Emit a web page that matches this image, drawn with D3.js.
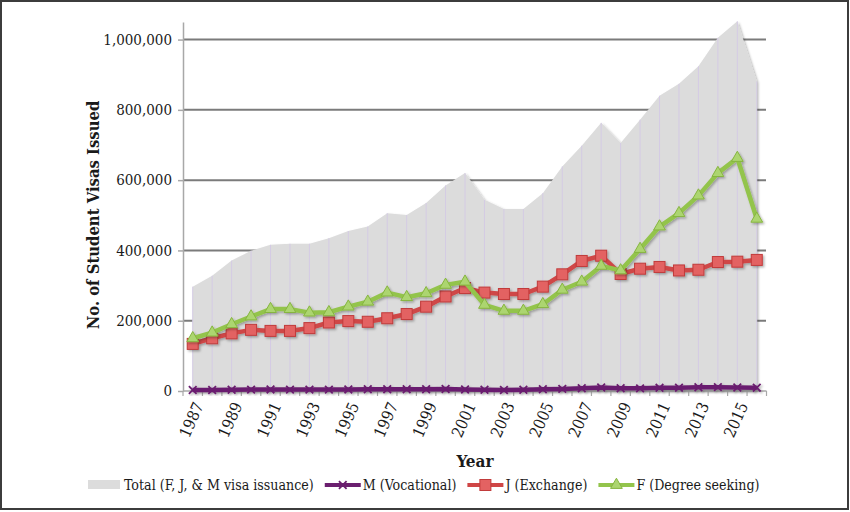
<!DOCTYPE html>
<html>
<head>
<meta charset="utf-8">
<script src="https://cdn.jsdelivr.net/npm/d3@7"></script>
<style>
  body { margin: 0; background: #fff; }
  svg { display: block; }
  text { font-family: "DejaVu Serif Condensed", "DejaVu Serif", serif; fill: #1a1a1a; }
</style>
</head>
<body>
<svg id="chart" width="850" height="512"></svg>
<script>
// categories and series
var years = [1987, 1988, 1989, 1990, 1991, 1992, 1993, 1994, 1995, 1996,
             1997, 1998, 1999, 2000, 2001, 2002, 2003, 2004, 2005, 2006,
             2007, 2008, 2009, 2010, 2011, 2012, 2013, 2014, 2015, 2016]

var totalVisas = [297000, 328000, 371000, 399000, 416000, 419000, 419000, 435000, 455000, 468000,
                  506000, 501000, 535000, 585000, 620000, 544000, 518000, 518000, 563000, 639000,
                  698000, 763000, 706000, 772000, 840000, 874000, 924000, 1005000, 1052000, 881000]

var mVisas = [3000, 3000, 3500, 4000, 4500, 4000, 4000, 4000, 4500, 5000,
              5000, 5000, 5000, 5500, 4500, 3500, 3000, 3500, 5000, 6000,
              8000, 10000, 8000, 7500, 9000, 9500, 10500, 11000, 10000, 9500]

var jVisas = [134000, 150000, 164000, 174000, 171000, 171000, 179000, 195000, 199000, 197000,
              207000, 219000, 240000, 269000, 293000, 280000, 276000, 276000, 297000, 332000,
              370000, 385000, 333000, 348000, 353000, 343000, 345000, 367000, 368000, 373000]

var fVisas = [150000, 166000, 190000, 212000, 233000, 233000, 223000, 224000, 240000, 254000,
              280000, 267000, 278000, 302000, 311000, 245000, 228000, 228000, 247000, 288000,
              311000, 356000, 343000, 404000, 468000, 506000, 556000, 620000, 663000, 490000]

var yTicks = [0, 200000, 400000, 600000, 800000, 1000000]
var yearLabels = [1987, 1989, 1991, 1993, 1995, 1997, 1999, 2001, 2003, 2005, 2007, 2009, 2011, 2013, 2015]

var legendLabels = ["Total (F, J, & M visa issuance)", "M (Vocational)", "J (Exchange)", "F (Degree seeking)"]

var svg = d3.select("#chart")

// outer frame
svg.append("rect")
    .attr("x", 1).attr("y", 1).attr("width", 847).attr("height", 508)
    .attr("fill", "#fff").attr("stroke", "#3c3c3c").attr("stroke-width", 2)

var defs = svg.append("defs")
var sh = defs.append("filter").attr("id", "shadow")
    .attr("x", "-5%").attr("y", "-5%").attr("width", "110%").attr("height", "120%")
sh.append("feDropShadow").attr("dx", 1.5).attr("dy", 1.5)
    .attr("stdDeviation", 1.2).attr("flood-color", "#000").attr("flood-opacity", 0.3)

var x = d3.scaleBand().domain(years).range([183, 766.5])
var xc = function(d) { return x(d) + x.bandwidth() / 2 }
var y = d3.scaleLinear().domain([0, 1050000]).range([391, 22])

// gridlines
svg.append("g").selectAll("line")
    .data(yTicks.slice(1)).enter()
    .append("line")
    .attr("x1", 184).attr("x2", 766)
    .attr("y1", function(d) { return y(d) }).attr("y2", function(d) { return y(d) })
    .attr("stroke", "#7b7b7b").attr("stroke-width", 2)

// total area with drop lines
var area = d3.area()
    .x(function(d, i) { return xc(years[i]) })
    .y0(y(0))
    .y1(function(d) { return y(d) })

svg.append("path")
    .datum(totalVisas)
    .attr("d", area)
    .attr("fill", "#dcdcdc")
    .attr("filter", "url(#shadow)")

svg.append("g").selectAll("line")
    .data(totalVisas).enter()
    .append("line")
    .attr("x1", function(d, i) { return xc(years[i]) })
    .attr("x2", function(d, i) { return xc(years[i]) })
    .attr("y1", function(d) { return y(d) })
    .attr("y2", y(0))
    .attr("stroke", "#d4cbe4").attr("stroke-width", 1)

// y axis
var yAxis = svg.append("g")
    .attr("transform", "translate(183,0)")
    .call(d3.axisLeft(y).tickValues(yTicks).tickSize(5).tickSizeOuter(0)
        .tickPadding(6).tickFormat(d3.format(",")))
yAxis.select(".domain").attr("stroke", "#a8a8a8").attr("stroke-width", 1.5)
yAxis.selectAll(".tick line").attr("stroke", "#a8a8a8").attr("stroke-width", 1.5)
yAxis.selectAll(".tick text").attr("font-size", 15)
    .style("font-family", "'DejaVu Serif Condensed', serif").attr("fill", "#1a1a1a")

// x axis: ticks sit between categories, labels on odd years
var xAxis = svg.append("g").attr("transform", "translate(0," + y(0) + ")")
xAxis.append("line").attr("x1", 183).attr("x2", 766.5)
    .attr("stroke", "#a8a8a8").attr("stroke-width", 1.5)
xAxis.selectAll(".sep")
    .data(years.concat(["end"])).enter()
    .append("line").attr("class", "sep")
    .attr("x1", function(d) { return d === "end" ? x.range()[1] : x(d) })
    .attr("x2", function(d) { return d === "end" ? x.range()[1] : x(d) })
    .attr("y1", 0).attr("y2", 5)
    .attr("stroke", "#a8a8a8").attr("stroke-width", 1.2)
xAxis.selectAll(".lab")
    .data(yearLabels).enter()
    .append("text").attr("class", "lab")
    .attr("text-anchor", "end")
    .attr("font-size", 16)
    .attr("transform", function(d) { return "translate(" + (xc(d) + 6) + ",12) rotate(-66)" })
    .attr("dy", "0.35em")
    .text(function(d) { return d })

// series lines
var line = d3.line()
    .x(function(d, i) { return xc(years[i]) })
    .y(function(d) { return y(d) })

var series = [
    { vals: mVisas, color: "#6b1f6f", mark: "x", mfill: "#6b1f6f", mstroke: "#6b1f6f" },
    { vals: jVisas, color: "#cf4646", mark: "square", mfill: "#e36262", mstroke: "#c13b3b" },
    { vals: fVisas, color: "#93c44c", mark: "triangle", mfill: "#acd56f", mstroke: "#86b53f" }
]

function drawMarker(g, s, cx, cy) {
    if (s.mark === "square") {
        g.append("rect").attr("x", cx - 5.5).attr("y", cy - 5.5).attr("width", 11).attr("height", 11)
            .attr("fill", s.mfill).attr("stroke", s.mstroke).attr("stroke-width", 1)
    } else if (s.mark === "triangle") {
        g.append("path").attr("d", d3.symbol(d3.symbolTriangle, 60)())
            .attr("transform", "translate(" + cx + "," + cy + ")")
            .attr("fill", s.mfill).attr("stroke", s.mstroke).attr("stroke-width", 1)
    } else {
        g.append("path").attr("d", d3.symbol(d3.symbolX, 40)())
            .attr("transform", "translate(" + cx + "," + cy + ")")
            .attr("fill", "none").attr("stroke", s.mstroke).attr("stroke-width", 1.8)
    }
}

series.forEach(function(s) {
    var g = svg.append("g").attr("filter", "url(#shadow)")
    g.append("path").datum(s.vals).attr("d", line)
        .attr("fill", "none").attr("stroke", s.color).attr("stroke-width", 4.5)
        .attr("stroke-linejoin", "round")
    s.vals.forEach(function(v, i) { drawMarker(g, s, xc(years[i]), y(v)) })
})

// axis titles
svg.append("text")
    .attr("transform", "translate(99,215) rotate(-90)")
    .attr("text-anchor", "middle")
    .attr("font-size", 16.5).attr("font-weight", "bold")
    .text("No. of Student Visas Issued")

svg.append("text")
    .attr("x", 475).attr("y", 467)
    .attr("text-anchor", "middle")
    .attr("font-size", 17).attr("font-weight", "bold")
    .text("Year")

// legend
var legend = svg.append("g").attr("transform", "translate(0,485)")
var lx = 88
legendLabels.forEach(function(label, i) {
    var item = legend.append("g")
    if (i === 0) {
        item.append("rect").attr("x", lx).attr("y", -5).attr("width", 32).attr("height", 9)
            .attr("fill", "#dcdcdc")
        lx += 36
    } else {
        var s = series[i - 1]
        item.append("line").attr("x1", lx).attr("x2", lx + 36)
            .attr("stroke", s.color).attr("stroke-width", 4)
        drawMarker(item, s, lx + 18, 0)
        lx += 38
    }
    var t = item.append("text").attr("x", lx).attr("y", 5)
        .attr("font-size", 14.1).text(label)
    lx += t.node().getComputedTextLength() + 11
})
</script>
</body>
</html>
